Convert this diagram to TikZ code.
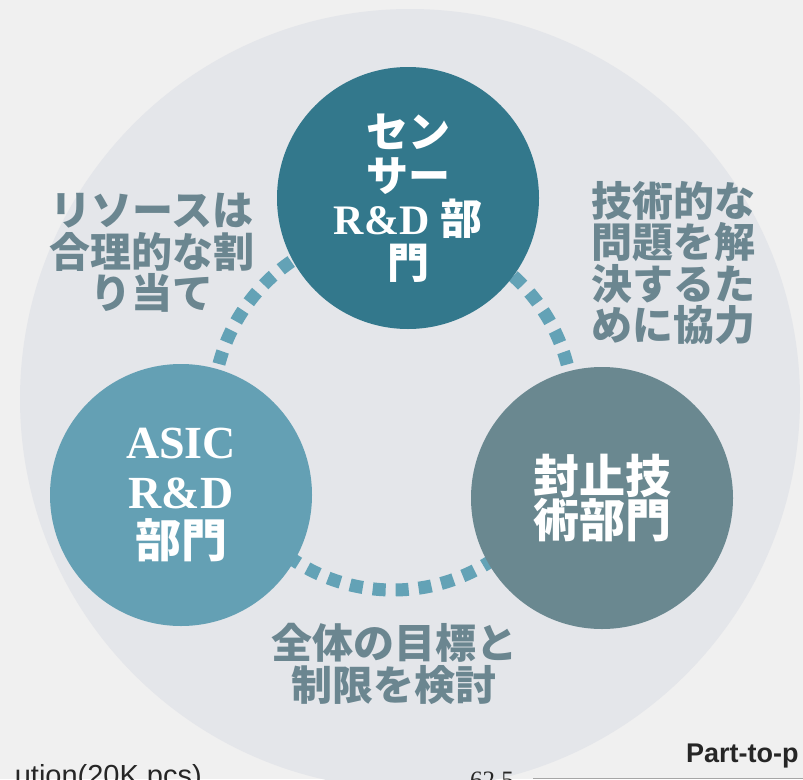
\documentclass[tikz,border=0pt]{standalone}
\usepackage{fontspec}
\setmainfont{Liberation Serif}
\newfontfamily\jp{Noto Sans CJK JP}
\newfontfamily\arialf{Liberation Sans}
\definecolor{bggray}{HTML}{F0F0F0}
\definecolor{ringgray}{HTML}{E4E6EA}
\definecolor{sensorc}{HTML}{33788C}
\definecolor{asicc}{HTML}{64A0B4}
\definecolor{pkgc}{HTML}{6A8890}
\definecolor{notegray}{HTML}{6B8690}
\definecolor{dashc}{HTML}{63A2B6}
\begin{document}
\begin{tikzpicture}[x=1pt,y=-1pt,
  dept/.style={circle, inner sep=0pt, minimum size=262pt, text=white, align=center},
  note/.style={text=notegray, align=center, inner sep=0pt, font=\jp\bfseries\fontsize{41pt}{41.5pt}\selectfont},
  ringline/.style={draw=dashc, line width=13pt, dash pattern=on 13pt off 10pt},
  frag/.style={inner sep=0pt, text=black!85}
]
\useasboundingbox (0,0) rectangle (803,779);
\clip (0,0) rectangle (803,779);
\fill[bggray] (0,0) rectangle (803,779);
\fill[ringgray] (410,399) circle[radius=390pt];
% dashed ring
\draw[ringline] (393,410) circle[radius=180pt];
% department circles
\node[dept, fill=sensorc, font=\bfseries\fontsize{42pt}{43.5pt}\selectfont] (sensor) at (408,198)
  {{\jp セン}\\{\jp サー}\\R\&D {\jp 部}\\{\jp 門}};
\node[dept, fill=asicc, font=\bfseries\fontsize{46pt}{49.5pt}\selectfont] (asic) at (181,495)
  {ASIC\\R\&D\\{\jp 部門}};
\node[dept, fill=pkgc, font=\jp\bfseries\fontsize{46pt}{44pt}\selectfont] (pkg) at (602,498)
  {封止技\\術部門};
% notes
\node[note] (resource) at (152,253) {リソースは\\合理的な割\\り当て};
\node[note] (tech) at (673,263) {技術的な\\問題を解\\決するた\\めに協力};
\node[note, font=\jp\bfseries\fontsize{41pt}{42pt}\selectfont] (goal) at (394,664) {全体の目標と\\制限を検討};
% cropped fragments at the bottom
\node[frag, anchor=base east, font=\arialf\fontsize{29pt}{29pt}\selectfont] (fragA) at (202,785) {ution(20K pcs)};
\node[frag, anchor=base west, font=\fontsize{25pt}{25pt}\selectfont] (fragB) at (470,788) {62.5};
\node[frag, anchor=base west, font=\arialf\bfseries\fontsize{27pt}{27pt}\selectfont] (fragC) at (686,762) {Part-to-p};
\coordinate (axisL) at (533,778.5);
\coordinate (axisR) at (803,778.5);
\draw[gray!70, line width=1pt] (axisL) -- (axisR);
\end{tikzpicture}
\end{document}
